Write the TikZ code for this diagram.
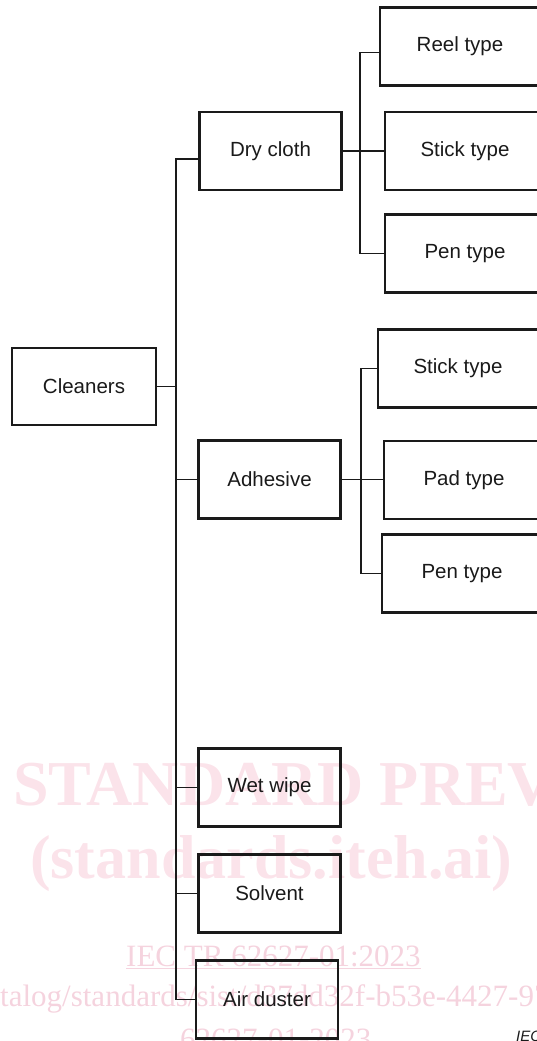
\documentclass[tikz,border=0pt]{standalone}
\usepackage{fontspec}
\setmainfont{Liberation Sans}
\newfontfamily\stampfont{Liberation Serif}
\definecolor{ink}{HTML}{1A1A1A}
\definecolor{stamp}{HTML}{FBE3EA}
\definecolor{stampline}{HTML}{F5D3DE}

\begin{document}
\begin{tikzpicture}[
    x=1pt, y=-1pt,
    box/.style={draw=ink, line width=2.2pt, minimum width=142pt, minimum height=78pt, inner sep=0pt, font=\fontsize{20.5}{24}\selectfont, text=ink},
    kind/.style={box, minimum width=160pt},
    link/.style={draw=ink, line width=1.9pt},
    stampbig/.style={anchor=base west, inner sep=0pt, text=stamp, font=\stampfont\bfseries\fontsize{64}{70}\selectfont},
    stampsmall/.style={anchor=base west, inner sep=0pt, text=stampline, font=\stampfont\fontsize{31}{34}\selectfont}
]
\useasboundingbox (0,0) rectangle (536,1041);

% Preview watermark (behind the chart)
\node[stampbig] (wmA) at (13,805) {STANDARD PREVIEW};
\node[stampbig, font=\stampfont\bfseries\fontsize{62}{68}\selectfont] (wmB) at (30,878) {(standards.iteh.ai)};
\node[stampsmall] (wmC) at (126,966) {\underline{IEC TR 62627-01:2023}};
\node[stampsmall] (wmD) at (0,1006) {talog/standards/sist/d37dd32f-b53e-4427-97};
\node[stampsmall] (wmE) at (180,1049) {62627-01-2023};

% Root
\node[box, minimum width=144pt, minimum height=77pt] (cleaners) at (84,386.5) {Cleaners};

% Second level
\node[box] (dry) at (270.5,151) {Dry cloth};
\node[box] (adhesive) at (269.5,479.5) {Adhesive};
\node[box] (wet) at (269.5,787.5) {Wet wipe};
\node[box] (solvent) at (269.5,893.5) {Solvent};
\node[box] (air) at (267,999.5) {Air duster};

% Dry cloth types
\node[kind] (reel) at (460,46.5) {Reel type};
\node[kind] (stick1) at (465,151) {Stick type};
\node[kind] (pen1) at (465,253.5) {Pen type};

% Adhesive types
\node[kind] (stick2) at (458,368.5) {Stick type};
\node[kind] (pad) at (464,480) {Pad type};
\node[kind] (pen2) at (462,573.5) {Pen type};

% Figure reference
\node[anchor=base west, inner sep=0pt, text=ink, font=\itshape\fontsize{15}{18}\selectfont] (figref) at (516,1041) {IEC};

% Main spine
\coordinate (spine) at (176,0);
\draw[link] (cleaners.east) -- (cleaners.east -| spine);
\draw[link] ([yshift=-8pt]dry.west) -| (spine |- air.west) -- (air.west);
\foreach \n in {adhesive,wet,solvent}
    \draw[link] (spine |- \n.west) -- (\n.west);

% Dry cloth branch
\coordinate (fork1) at (360,151);
\draw[link] (dry.east) -- (stick1.west);
\draw[link] ([yshift=-6pt]reel.west) -| (fork1) |- (pen1.west);

% Adhesive branch
\coordinate (fork2) at (361,480);
\draw[link] (adhesive.east) -- (adhesive.east -| pad.west);
\draw[link] (stick2.west) -| (fork2) |- (pen2.west);

\end{tikzpicture}
\end{document}
